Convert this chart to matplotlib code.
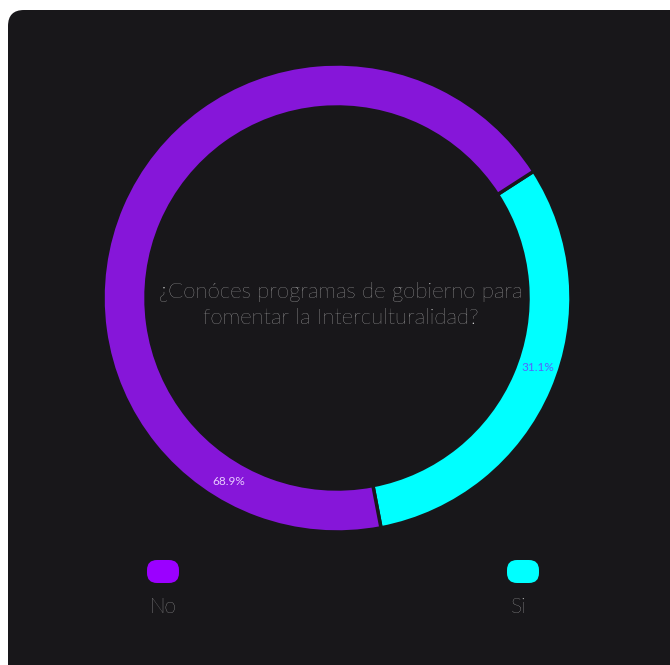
import matplotlib.pyplot as plt
import numpy as np
from matplotlib.patches import FancyBboxPatch

# survey answers
labels = ["Si", "No"]
shares = [31.1, 68.9]
slice_colors = ["#00ffff", "#8616d9"]
legend_colors = {"No": "#9b00ff", "Si": "#00ffff"}
question = "¿Conóces programas de gobierno para\nfomentar la Interculturalidad?"

W, H = 670, 665
fig = plt.figure(figsize=(W / 100, H / 100), dpi=100)
fig.patch.set_facecolor("white")
ax = fig.add_axes([0, 0, 1, 1])
ax.set_axis_off()

# dark card behind the chart
card = FancyBboxPatch((8, -30), 700, 685, boxstyle="round,pad=0,rounding_size=16",
                      facecolor="#18171a", edgecolor="none", zorder=0)
ax.add_patch(card)

cx, cy = 337, H - 298
r_out, ring = 234, 43
wedges, _ = ax.pie(shares, colors=slice_colors, startangle=32.8, counterclock=False,
                   center=(cx, cy), radius=r_out,
                   wedgeprops=dict(width=ring, edgecolor="#18171a", linewidth=2.5))
for w in wedges:
    w.set_zorder(2)

# percentage labels on the ring
pct_pos = {"Si": -19.0, "No": -120.5}
pct_col = {"Si": "#5563ff", "No": "#e8ccff"}
r_mid = r_out - ring / 2
for lab, val in zip(labels, shares):
    a = np.radians(pct_pos[lab])
    ax.text(cx + r_mid * np.cos(a), cy + r_mid * np.sin(a), f"{val}%",
            ha="center", va="center", fontsize=8.5, color=pct_col[lab],
            family="Lato", zorder=3)

ax.text(cx + 4, H - 305, question, ha="center", va="center", fontsize=16,
        color="#e0e0e0", family="Lato", fontweight="light", linespacing=1.35, zorder=3)

# legend
leg_x = {"No": 163, "Si": 523}
for lab in ["No", "Si"]:
    box = FancyBboxPatch((leg_x[lab] - 16, H - 583), 32, 23,
                         boxstyle="round,pad=0,rounding_size=10",
                         facecolor=legend_colors[lab], edgecolor="none", zorder=3)
    ax.add_patch(box)
    ax.text(leg_x[lab] - (4 if lab == "Si" else 0), H - 607, lab, ha="center", va="center",
            fontsize=15, color="#dadada", family="Lato", fontweight="light", zorder=3)

ax.set_xlim(0, W)
ax.set_ylim(0, H)
ax.set_aspect("auto")
fig.savefig("out.png", dpi=100, facecolor="white")
